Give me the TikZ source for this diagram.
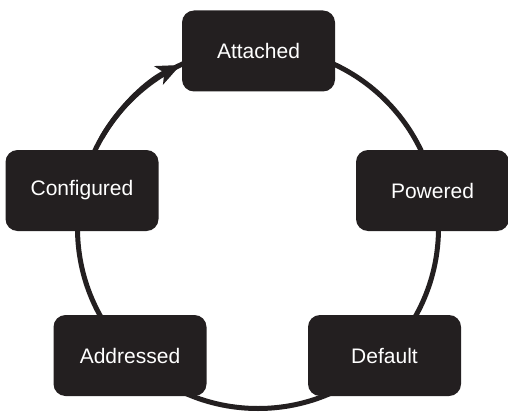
\documentclass[tikz,border=0pt]{standalone}
\usepackage{fontspec}
\setmainfont{Liberation Sans}
\usetikzlibrary{arrows.meta}
\definecolor{boxfill}{HTML}{231F20}
\tikzset{
  state/.style={fill=boxfill, rounded corners=12pt, minimum width=153pt, minimum height=81pt,
    text=white, font=\fontsize{21}{25}\selectfont, inner sep=0pt},
  ring/.style={draw=boxfill, line width=5pt}
}
\begin{document}
\begin{tikzpicture}[x=1pt,y=1pt]
\useasboundingbox (0,0) rectangle (508,413);
\coordinate (ctr) at (258,185);
\draw[ring] (ctr) circle[radius=180.5];
\node[state] (att)  at (258.5,362) {Attached};
\node[state] (pow)  at (432.5,222.5) {Powered};
\node[state] (def)  at (384.5,57.5) {Default};
\node[state] (addr) at (130,57.5) {Addressed};
\node[state] (conf) at (82,222.5) {Configured};
\draw[ring, -{Stealth[length=24pt,width=20pt,inset=6pt]}]
  ([shift={(150:180.5)}]ctr) arc[start angle=150, end angle=115.4, radius=180.5];
\end{tikzpicture}
\end{document}
